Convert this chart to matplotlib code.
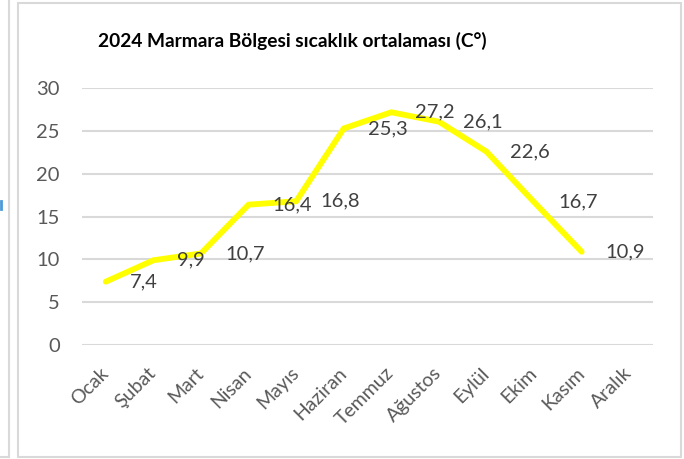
import matplotlib
matplotlib.use("Agg")
import matplotlib.pyplot as plt
from matplotlib.lines import Line2D
from matplotlib.patches import Rectangle
from matplotlib.transforms import ScaledTranslation

months = ["Ocak", "Şubat", "Mart", "Nisan", "Mayıs", "Haziran", "Temmuz",
          "Ağustos", "Eylül", "Ekim", "Kasım", "Aralık"]
temps = [7.4, 9.9, 10.7, 16.4, 16.8, 25.3, 27.2, 26.1, 22.6, 16.7, 10.9]
labels = ["7,4", "9,9", "10,7", "16,4", "16,8", "25,3", "27,2", "26,1", "22,6", "16,7", "10,9"]
yticks = [0, 5, 10, 15, 20, 25, 30]
title = "2024 Marmara Bölgesi sıcaklık ortalaması (C°)"

W, H = 684, 459
fig = plt.figure(figsize=(W / 100, H / 100), dpi=100)
plt.rcParams['font.family'] = ['Lato', 'DejaVu Sans']

# frames
fig.add_artist(Rectangle((18 / W, 1 - 457 / H), (681 - 18) / W, (457 - 3) / H,
                         transform=fig.transFigure, fill=False, edgecolor="#d9d9d9", lw=1.5))
fig.add_artist(Line2D([9 / W, 9 / W], [1, 1 - 457 / H], transform=fig.transFigure,
                      color="#d9d9d9", lw=1.5))
fig.add_artist(Line2D([0, 9 / W], [1 - 457 / H, 1 - 457 / H], transform=fig.transFigure,
                      color="#d9d9d9", lw=1.5))
fig.add_artist(Line2D([1 / W, 1 / W], [1 - 201 / H, 1 - 209 / H], transform=fig.transFigure,
                      color="#4a9ad8", lw=2))

left, right, top, bottom = 82, 653, 88.3, 345
ax = fig.add_axes([left / W, 1 - bottom / H, (right - left) / W, (bottom - top) / H])
x = list(range(len(months)))
ax.set_xlim(-0.5, len(months) - 0.5)
ax.set_ylim(0, 30)
ax.set_yticks(yticks)
ax.set_yticklabels([str(v) for v in yticks])
ax.grid(axis="y", color="#d9d9d9", lw=1.5)
ax.set_axisbelow(True)
for s in ax.spines.values():
    s.set_visible(False)
ax.tick_params(axis="y", length=0, pad=16, labelsize=14.5, labelcolor="#595959")
ax.tick_params(axis="x", length=0, pad=14, labelsize=14, labelcolor="#595959")
ax.set_xticks(x)
ax.set_xticklabels(months, rotation=45, ha="right", va="top", rotation_mode="anchor")
shift = ScaledTranslation(-6 / 100, 0, fig.dpi_scale_trans)
for lbl in ax.get_xticklabels():
    lbl.set_transform(lbl.get_transform() + shift)

ax.plot(x[:len(temps)], temps, color="#ffff00", lw=4.2, solid_capstyle="round",
        solid_joinstyle="miter", clip_on=False)
for i, (v, lab) in enumerate(zip(temps, labels)):
    ax.annotate(lab, (i, v), xytext=(24, 0), textcoords="offset pixels",
                ha="left", va="center", fontsize=14.5, color="#404040")

fig.text(292 / W, 1 - 47 / H, title, ha="center", va="baseline",
         fontsize=13.8, fontweight="bold", color="#000000")

fig.savefig("out.png", dpi=100)
